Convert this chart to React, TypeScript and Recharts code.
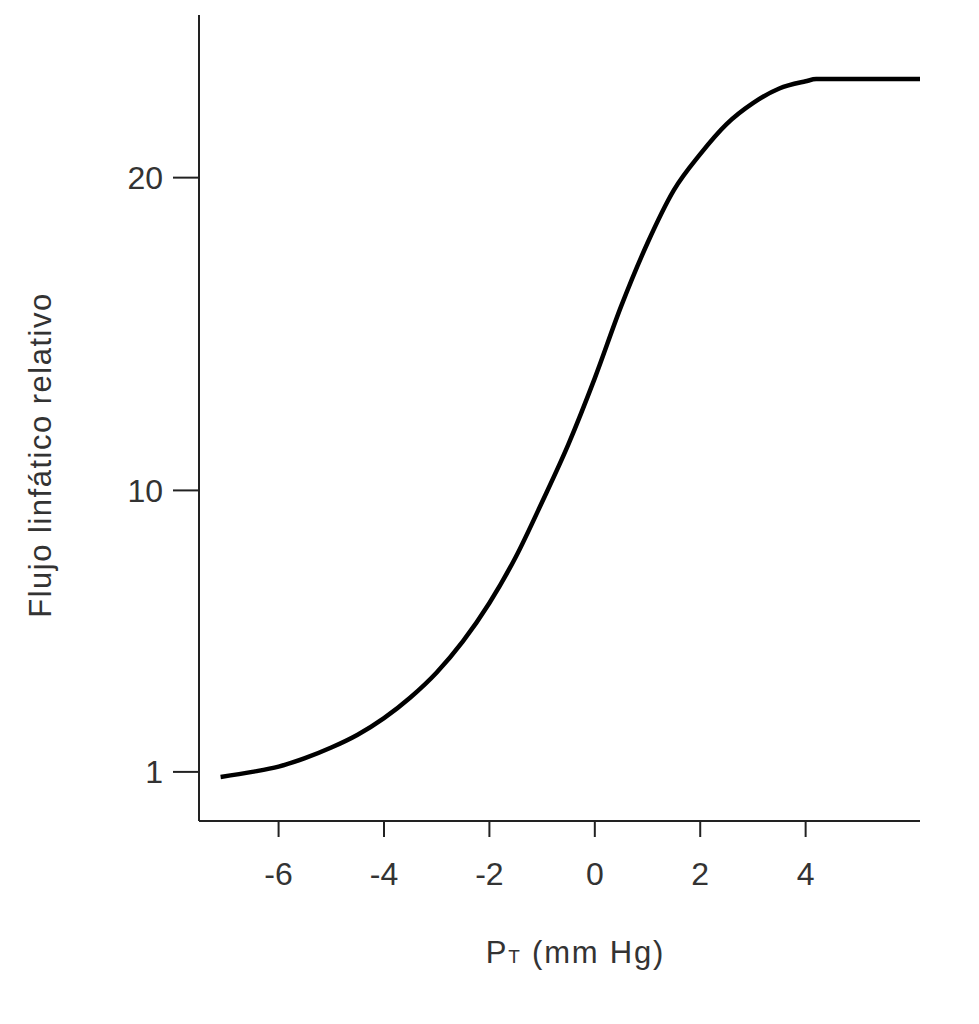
import { LineChart, Line, XAxis, YAxis } from 'recharts';

// tissue pressure (mm Hg) vs relative lymph flow
const pressure = [-7.1, -6.5, -6, -5.5, -5, -4.5, -4, -3.5, -3, -2.5, -2, -1.5, -1, -0.5, 0, 0.5, 1, 1.5, 2, 2.5, 3, 3.5, 4, 4.2, 6.2];
const lymphFlow = [0.84, 1.0, 1.17, 1.44, 1.78, 2.19, 2.72, 3.38, 4.18, 5.18, 6.4, 7.87, 9.63, 11.48, 13.59, 15.89, 17.91, 19.6, 20.75, 21.71, 22.38, 22.85, 23.08, 23.15, 23.15];

const xTicks = [-6, -4, -2, 0, 2, 4];
const yTicks = [1, 10, 20];

const data = pressure.map((p, i) => ({ p, flow: lymphFlow[i] }));

const FONT = '"Liberation Sans", Arial, sans-serif';
const TEXT = '#333';
const AXIS = '#222';

const XTitle = (props: any) => {
    const vb = props.viewBox || {};
    const cx = vb.x + vb.width / 2 + 16;
    return (
        <text x={cx} y={963} textAnchor="middle" fontFamily={FONT} fontSize={31} fill={TEXT} letterSpacing={1.8}>
            P<tspan fontSize={19}>T</tspan> (mm Hg)
        </text>
    );
};

const YTitle = () => (
    <text
        x={40}
        y={455}
        transform="rotate(-90 40 455)"
        textAnchor="middle"
        dominantBaseline="central"
        fontFamily={FONT}
        fontSize={31}
        fill={TEXT}
        letterSpacing={1.5}
    >
        Flujo linfático relativo
    </text>
);

export default function App() {
    return (
        <div style={{ position: 'absolute', left: 0, top: 0, width: 979, height: 1024, background: '#fff' }}>
            <LineChart width={979} height={1024} data={data} margin={{ top: 15, right: 59, bottom: 63, left: 0 }}>
                <XAxis
                    type="number"
                    dataKey="p"
                    domain={[-7.51, 6.17]}
                    ticks={xTicks}
                    allowDataOverflow
                    height={140}
                    tickSize={16}
                    tickMargin={25}
                    axisLine={{ stroke: AXIS, strokeWidth: 2 }}
                    tickLine={{ stroke: AXIS, strokeWidth: 2 }}
                    tick={{ fill: TEXT, fontSize: 32, fontFamily: FONT }}
                    label={{ content: <XTitle /> }}
                />
                <YAxis
                    type="number"
                    domain={[-0.57, 25.2]}
                    ticks={yTicks}
                    allowDataOverflow
                    width={199}
                    tickSize={26}
                    tickMargin={10}
                    axisLine={{ stroke: AXIS, strokeWidth: 2 }}
                    tickLine={{ stroke: AXIS, strokeWidth: 2 }}
                    tick={{ fill: TEXT, fontSize: 32, fontFamily: FONT }}
                    label={{ content: <YTitle /> }}
                />
                <Line
                    type="monotone"
                    dataKey="flow"
                    stroke="#000"
                    strokeWidth={4.5}
                    dot={false}
                    isAnimationActive={false}
                />
            </LineChart>
        </div>
    );
}
